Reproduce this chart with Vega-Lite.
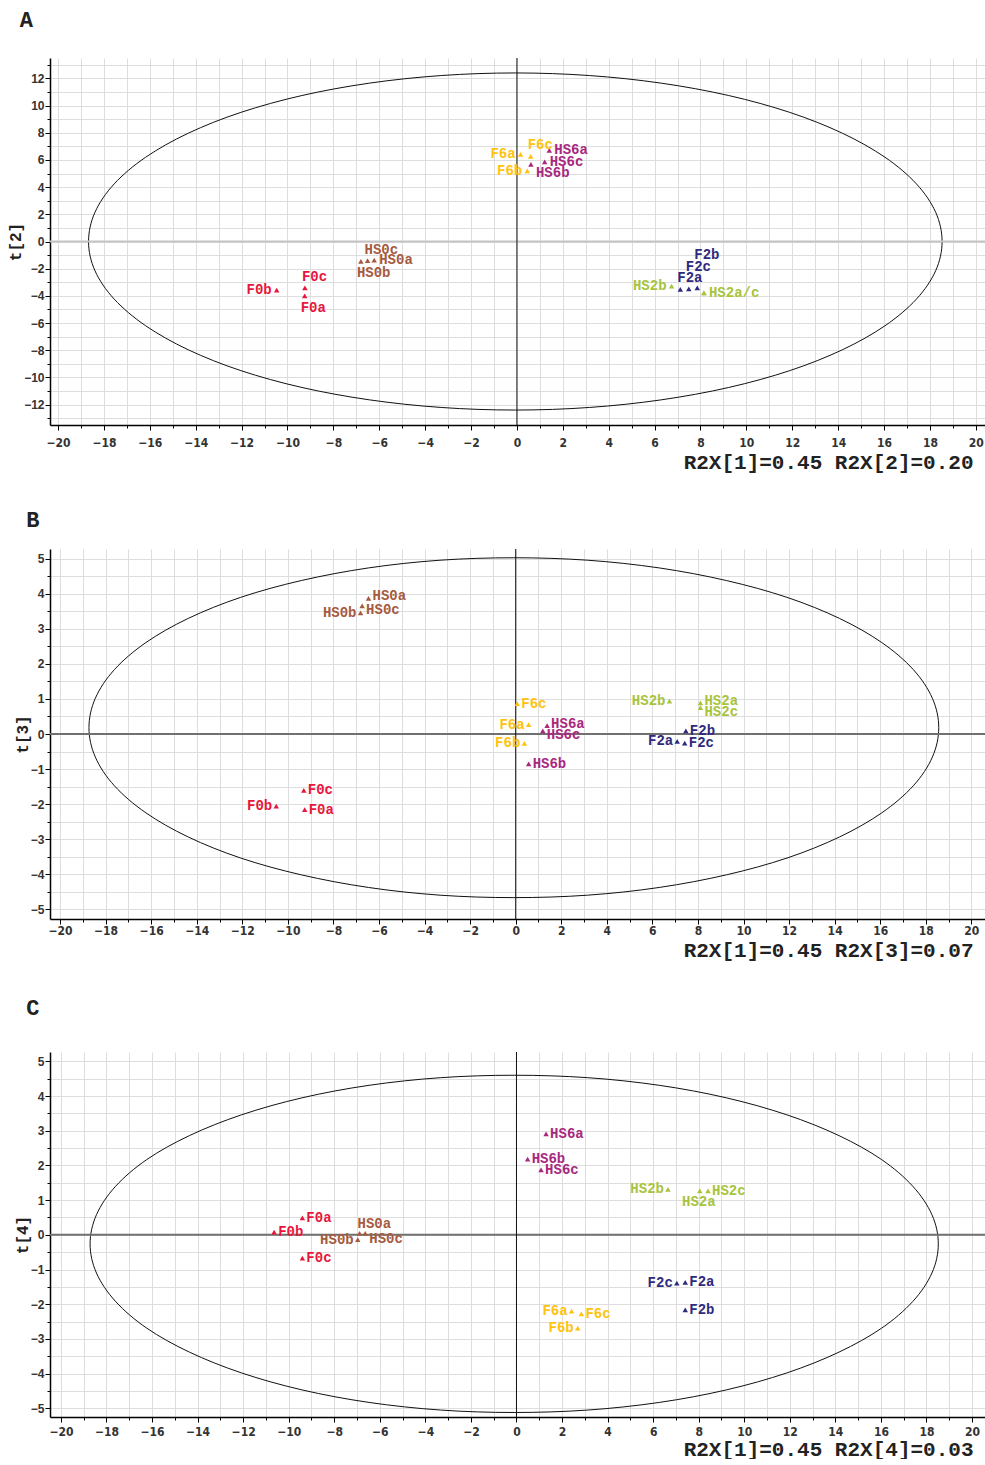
{
  "$schema": "https://vega.github.io/schema/vega-lite/v6.json",
  "padding": {"left": 7, "top": 8, "right": 0, "bottom": 0},
  "background": "white",
  "spacing": 36,
  "align": "none",
  "config": {
    "view": {"stroke": null},
    "title": {"font": "Liberation Mono", "fontSize": 22, "fontWeight": "bold", "anchor": "start", "frame": "bounds", "offset": 26, "color": "#222"},
    "axis": {
      "gridColor": "#dedede", "gridWidth": 1,
      "domainColor": "#000", "domainWidth": 1.5, "tickColor": "#000",
      "labelColor": "#333", "labelFontWeight": "bold", "labelFontSize": 12,
      "labelOverlap": false, "labelFlush": false,
      "titleFont": "Liberation Mono", "titleFontWeight": "bold", "titleColor": "#222"
    },
    "axisX": {"labelFont": "'DejaVu Sans Condensed', 'Liberation Sans Narrow', 'Liberation Sans'", "labelPadding": 4, "titleAlign": "right", "titleFontSize": 21, "titlePadding": 3},
    "axisY": {"labelFont": "Liberation Sans", "labelPadding": 1, "titleFontSize": 16, "titlePadding": 0}
  },
  "datasets": {
    "pts": [
      {"p": "A", "name": "F0a", "grp": "F0", "x": -9.25, "y": -4.0, "side": "bl"},
      {"p": "A", "name": "F0b", "grp": "F0", "x": -10.47, "y": -3.58, "side": "l"},
      {"p": "A", "name": "F0c", "grp": "F0", "x": -9.24, "y": -3.41, "side": "t"},
      {"p": "A", "name": "HS0a", "grp": "HS0", "x": -6.22, "y": -1.37, "side": "r"},
      {"p": "A", "name": "HS0b", "grp": "HS0", "x": -6.8, "y": -1.46, "side": "bl"},
      {"p": "A", "name": "HS0c", "grp": "HS0", "x": -6.51, "y": -1.41, "side": "t"},
      {"p": "A", "name": "F6a", "grp": "F6", "x": 0.16, "y": 6.41, "side": "l"},
      {"p": "A", "name": "F6b", "grp": "F6", "x": 0.45, "y": 5.19, "side": "l"},
      {"p": "A", "name": "F6c", "grp": "F6", "x": 0.6, "y": 6.27, "side": "t"},
      {"p": "A", "name": "HS6a", "grp": "HS6", "x": 1.41, "y": 6.71, "side": "r"},
      {"p": "A", "name": "HS6b", "grp": "HS6", "x": 0.61, "y": 5.68, "side": "rd"},
      {"p": "A", "name": "HS6c", "grp": "HS6", "x": 1.21, "y": 5.85, "side": "r"},
      {"p": "A", "name": "F2a", "grp": "F2", "x": 7.12, "y": -3.53, "side": "t"},
      {"p": "A", "name": "F2b", "grp": "F2", "x": 7.86, "y": -3.42, "side": "t3"},
      {"p": "A", "name": "F2c", "grp": "F2", "x": 7.49, "y": -3.49, "side": "t2"},
      {"p": "A", "name": "HS2a/c", "grp": "HS2", "x": 8.15, "y": -3.78, "side": "r"},
      {"p": "A", "name": "HS2c", "grp": "HS2", "x": 8.15, "y": -3.78, "side": "none"},
      {"p": "A", "name": "HS2b", "grp": "HS2", "x": 6.74, "y": -3.29, "side": "l"},

      {"p": "B", "name": "F0a", "grp": "F0", "x": -9.26, "y": -2.16, "side": "r"},
      {"p": "B", "name": "F0b", "grp": "F0", "x": -10.51, "y": -2.06, "side": "l"},
      {"p": "B", "name": "F0c", "grp": "F0", "x": -9.3, "y": -1.61, "side": "r"},
      {"p": "B", "name": "HS0a", "grp": "HS0", "x": -6.46, "y": 3.87, "side": "ru"},
      {"p": "B", "name": "HS0b", "grp": "HS0", "x": -6.81, "y": 3.46, "side": "l"},
      {"p": "B", "name": "HS0c", "grp": "HS0", "x": -6.74, "y": 3.66, "side": "rd"},
      {"p": "B", "name": "F6a", "grp": "F6", "x": 0.57, "y": 0.27, "side": "l"},
      {"p": "B", "name": "F6b", "grp": "F6", "x": 0.38, "y": -0.27, "side": "l"},
      {"p": "B", "name": "F6c", "grp": "F6", "x": 0.07, "y": 0.87, "side": "r"},
      {"p": "B", "name": "HS6a", "grp": "HS6", "x": 1.38, "y": 0.24, "side": "ru"},
      {"p": "B", "name": "HS6b", "grp": "HS6", "x": 0.57, "y": -0.85, "side": "r"},
      {"p": "B", "name": "HS6c", "grp": "HS6", "x": 1.19, "y": 0.09, "side": "rd"},
      {"p": "B", "name": "F2a", "grp": "F2", "x": 7.09, "y": -0.21, "side": "l"},
      {"p": "B", "name": "F2b", "grp": "F2", "x": 7.47, "y": 0.09, "side": "r"},
      {"p": "B", "name": "F2c", "grp": "F2", "x": 7.42, "y": -0.26, "side": "r"},
      {"p": "B", "name": "HS2a", "grp": "HS2", "x": 8.11, "y": 0.89, "side": "ru"},
      {"p": "B", "name": "HS2b", "grp": "HS2", "x": 6.75, "y": 0.94, "side": "l"},
      {"p": "B", "name": "HS2c", "grp": "HS2", "x": 8.11, "y": 0.75, "side": "rd"},

      {"p": "C", "name": "F0a", "grp": "F0", "x": -9.4, "y": 0.49, "side": "r"},
      {"p": "C", "name": "F0b", "grp": "F0", "x": -10.64, "y": 0.08, "side": "r"},
      {"p": "C", "name": "F0c", "grp": "F0", "x": -9.4, "y": -0.67, "side": "r"},
      {"p": "C", "name": "HS0a", "grp": "HS0", "x": -6.89, "y": 0.04, "side": "t"},
      {"p": "C", "name": "HS0b", "grp": "HS0", "x": -6.97, "y": -0.14, "side": "l"},
      {"p": "C", "name": "HS0c", "grp": "HS0", "x": -6.64, "y": 0.04, "side": "rd"},
      {"p": "C", "name": "F6a", "grp": "F6", "x": 2.42, "y": -2.2, "side": "l"},
      {"p": "C", "name": "F6b", "grp": "F6", "x": 2.69, "y": -2.69, "side": "l"},
      {"p": "C", "name": "F6c", "grp": "F6", "x": 2.85, "y": -2.28, "side": "r"},
      {"p": "C", "name": "HS6a", "grp": "HS6", "x": 1.3, "y": 2.91, "side": "r"},
      {"p": "C", "name": "HS6b", "grp": "HS6", "x": 0.49, "y": 2.18, "side": "r"},
      {"p": "C", "name": "HS6c", "grp": "HS6", "x": 1.08, "y": 1.87, "side": "r"},
      {"p": "C", "name": "F2a", "grp": "F2", "x": 7.41, "y": -1.37, "side": "r"},
      {"p": "C", "name": "F2b", "grp": "F2", "x": 7.41, "y": -2.16, "side": "r"},
      {"p": "C", "name": "F2c", "grp": "F2", "x": 7.04, "y": -1.39, "side": "l"},
      {"p": "C", "name": "HS2a", "grp": "HS2", "x": 8.05, "y": 1.27, "side": "b"},
      {"p": "C", "name": "HS2b", "grp": "HS2", "x": 6.65, "y": 1.31, "side": "l"},
      {"p": "C", "name": "HS2c", "grp": "HS2", "x": 8.41, "y": 1.27, "side": "r"}
    ],
    "ell": [
      {"p": "A", "i": 0, "x": 18.53, "y": 0}, {"p": "A", "i": 1, "x": 18.25, "y": 2.15}, {"p": "A", "i": 2, "x": 17.41, "y": 4.24}, {"p": "A", "i": 3, "x": 16.04, "y": 6.2}, {"p": "A", "i": 4, "x": 14.18, "y": 7.97}, {"p": "A", "i": 5, "x": 11.89, "y": 9.5}, {"p": "A", "i": 6, "x": 9.23, "y": 10.74}, {"p": "A", "i": 7, "x": 6.29, "y": 11.65}, {"p": "A", "i": 8, "x": 3.16, "y": 12.21}, {"p": "A", "i": 9, "x": -0.07, "y": 12.4},
      {"p": "A", "i": 10, "x": -3.3, "y": 12.21}, {"p": "A", "i": 11, "x": -6.43, "y": 11.65}, {"p": "A", "i": 12, "x": -9.37, "y": 10.74}, {"p": "A", "i": 13, "x": -12.03, "y": 9.5}, {"p": "A", "i": 14, "x": -14.32, "y": 7.97}, {"p": "A", "i": 15, "x": -16.18, "y": 6.2}, {"p": "A", "i": 16, "x": -17.55, "y": 4.24}, {"p": "A", "i": 17, "x": -18.39, "y": 2.15}, {"p": "A", "i": 18, "x": -18.67, "y": 0},
      {"p": "A", "i": 19, "x": -18.39, "y": -2.15}, {"p": "A", "i": 20, "x": -17.55, "y": -4.24}, {"p": "A", "i": 21, "x": -16.18, "y": -6.2}, {"p": "A", "i": 22, "x": -14.32, "y": -7.97}, {"p": "A", "i": 23, "x": -12.03, "y": -9.5}, {"p": "A", "i": 24, "x": -9.37, "y": -10.74}, {"p": "A", "i": 25, "x": -6.43, "y": -11.65}, {"p": "A", "i": 26, "x": -3.3, "y": -12.21}, {"p": "A", "i": 27, "x": -0.07, "y": -12.4},
      {"p": "A", "i": 28, "x": 3.16, "y": -12.21}, {"p": "A", "i": 29, "x": 6.29, "y": -11.65}, {"p": "A", "i": 30, "x": 9.23, "y": -10.74}, {"p": "A", "i": 31, "x": 11.89, "y": -9.5}, {"p": "A", "i": 32, "x": 14.18, "y": -7.97}, {"p": "A", "i": 33, "x": 16.04, "y": -6.2}, {"p": "A", "i": 34, "x": 17.41, "y": -4.24}, {"p": "A", "i": 35, "x": 18.25, "y": -2.15},

      {"p": "B", "i": 0, "x": 18.57, "y": 0.18}, {"p": "B", "i": 1, "x": 18.29, "y": 1.02}, {"p": "B", "i": 2, "x": 17.45, "y": 1.84}, {"p": "B", "i": 3, "x": 16.07, "y": 2.61}, {"p": "B", "i": 4, "x": 14.21, "y": 3.3}, {"p": "B", "i": 5, "x": 11.91, "y": 3.9}, {"p": "B", "i": 6, "x": 9.25, "y": 4.38}, {"p": "B", "i": 7, "x": 6.3, "y": 4.74}, {"p": "B", "i": 8, "x": 3.16, "y": 4.96}, {"p": "B", "i": 9, "x": -0.08, "y": 5.03},
      {"p": "B", "i": 10, "x": -3.32, "y": 4.96}, {"p": "B", "i": 11, "x": -6.46, "y": 4.74}, {"p": "B", "i": 12, "x": -9.41, "y": 4.38}, {"p": "B", "i": 13, "x": -12.07, "y": 3.9}, {"p": "B", "i": 14, "x": -14.37, "y": 3.3}, {"p": "B", "i": 15, "x": -16.23, "y": 2.61}, {"p": "B", "i": 16, "x": -17.61, "y": 1.84}, {"p": "B", "i": 17, "x": -18.45, "y": 1.02}, {"p": "B", "i": 18, "x": -18.73, "y": 0.18},
      {"p": "B", "i": 19, "x": -18.45, "y": -0.66}, {"p": "B", "i": 20, "x": -17.61, "y": -1.48}, {"p": "B", "i": 21, "x": -16.23, "y": -2.25}, {"p": "B", "i": 22, "x": -14.37, "y": -2.94}, {"p": "B", "i": 23, "x": -12.07, "y": -3.54}, {"p": "B", "i": 24, "x": -9.41, "y": -4.02}, {"p": "B", "i": 25, "x": -6.46, "y": -4.38}, {"p": "B", "i": 26, "x": -3.32, "y": -4.6}, {"p": "B", "i": 27, "x": -0.08, "y": -4.67},
      {"p": "B", "i": 28, "x": 3.16, "y": -4.6}, {"p": "B", "i": 29, "x": 6.3, "y": -4.38}, {"p": "B", "i": 30, "x": 9.25, "y": -4.02}, {"p": "B", "i": 31, "x": 11.91, "y": -3.54}, {"p": "B", "i": 32, "x": 14.21, "y": -2.94}, {"p": "B", "i": 33, "x": 16.07, "y": -2.25}, {"p": "B", "i": 34, "x": 17.45, "y": -1.48}, {"p": "B", "i": 35, "x": 18.29, "y": -0.66},

      {"p": "C", "i": 0, "x": 18.52, "y": -0.26}, {"p": "C", "i": 1, "x": 18.24, "y": 0.58}, {"p": "C", "i": 2, "x": 17.4, "y": 1.4}, {"p": "C", "i": 3, "x": 16.03, "y": 2.17}, {"p": "C", "i": 4, "x": 14.16, "y": 2.86}, {"p": "C", "i": 5, "x": 11.87, "y": 3.46}, {"p": "C", "i": 6, "x": 9.21, "y": 3.95}, {"p": "C", "i": 7, "x": 6.27, "y": 4.31}, {"p": "C", "i": 8, "x": 3.13, "y": 4.53}, {"p": "C", "i": 9, "x": -0.1, "y": 4.6},
      {"p": "C", "i": 10, "x": -3.33, "y": 4.53}, {"p": "C", "i": 11, "x": -6.47, "y": 4.31}, {"p": "C", "i": 12, "x": -9.41, "y": 3.95}, {"p": "C", "i": 13, "x": -12.07, "y": 3.46}, {"p": "C", "i": 14, "x": -14.36, "y": 2.86}, {"p": "C", "i": 15, "x": -16.23, "y": 2.17}, {"p": "C", "i": 16, "x": -17.6, "y": 1.4}, {"p": "C", "i": 17, "x": -18.44, "y": 0.58}, {"p": "C", "i": 18, "x": -18.72, "y": -0.26},
      {"p": "C", "i": 19, "x": -18.44, "y": -1.1}, {"p": "C", "i": 20, "x": -17.6, "y": -1.92}, {"p": "C", "i": 21, "x": -16.23, "y": -2.69}, {"p": "C", "i": 22, "x": -14.36, "y": -3.38}, {"p": "C", "i": 23, "x": -12.07, "y": -3.98}, {"p": "C", "i": 24, "x": -9.41, "y": -4.47}, {"p": "C", "i": 25, "x": -6.47, "y": -4.83}, {"p": "C", "i": 26, "x": -3.33, "y": -5.05}, {"p": "C", "i": 27, "x": -0.1, "y": -5.12},
      {"p": "C", "i": 28, "x": 3.13, "y": -5.05}, {"p": "C", "i": 29, "x": 6.27, "y": -4.83}, {"p": "C", "i": 30, "x": 9.21, "y": -4.47}, {"p": "C", "i": 31, "x": 11.87, "y": -3.98}, {"p": "C", "i": 32, "x": 14.16, "y": -3.38}, {"p": "C", "i": 33, "x": 16.03, "y": -2.69}, {"p": "C", "i": 34, "x": 17.4, "y": -1.92}, {"p": "C", "i": 35, "x": 18.24, "y": -1.1}
    ]
  },
  "vconcat": [
    {
      "title": {"text": "A", "dx": 12},
      "width": 935, "height": 367,
      "resolve": {"axis": {"x": "independent", "y": "independent"}},
      "layer": [
        {"data": {"name": "ell"}, "transform": [{"filter": "datum.p === 'A'"}],
         "mark": {"type": "line", "interpolate": "cardinal-closed", "color": "#111", "strokeWidth": 1},
         "encoding": {
           "x": {"field": "x", "type": "quantitative", "scale": {"domain": [-20.35, 20.4], "nice": false, "zero": false},
                 "axis": {"orient": "bottom", "title": null, "labels": false, "grid": true, "tickSize": 3, "values": [-20,-19,-18,-17,-16,-15,-14,-13,-12,-11,-10,-9,-8,-7,-6,-5,-4,-3,-2,-1,0,1,2,3,4,5,6,7,8,9,10,11,12,13,14,15,16,17,18,19,20]}},
           "y": {"field": "y", "type": "quantitative", "scale": {"domain": [-13.5, 13.5], "nice": false, "zero": false},
                 "axis": {"orient": "left", "title": null, "labels": false, "grid": true, "tickSize": 3, "values": [-13,-12,-11,-10,-9,-8,-7,-6,-5,-4,-3,-2,-1,0,1,2,3,4,5,6,7,8,9,10,11,12,13]}},
           "order": {"field": "i", "type": "quantitative"}
         }},
        {"data": {"values": [{"y": 0}]}, "mark": {"type": "rule", "color": "#c4c4c4", "strokeWidth": 2}, "encoding": {"y": {"field": "y", "type": "quantitative", "axis": null}}},
        {"data": {"values": [{"x": 0}]}, "mark": {"type": "rule", "color": "#111", "strokeWidth": 1}, "encoding": {"x": {"field": "x", "type": "quantitative", "axis": null}}},
        {"data": {"name": "pts"}, "transform": [{"filter": "datum.p === 'A'"}],
         "mark": {"type": "point", "shape": "triangle-up", "filled": true, "size": 30, "opacity": 1},
         "encoding": {
           "x": {"field": "x", "type": "quantitative", "axis": {"orient": "bottom", "title": "R2X[1]=0.45 R2X[2]=0.20", "titleX": 923, "labelPadding": 7, "grid": false, "domain": false, "tickSize": 5, "values": [-20,-18,-16,-14,-12,-10,-8,-6,-4,-2,0,2,4,6,8,10,12,14,16,18,20]}},
           "y": {"field": "y", "type": "quantitative", "axis": {"orient": "left", "title": "t[2]", "grid": false, "domain": false, "tickSize": 5, "values": [-12,-10,-8,-6,-4,-2,0,2,4,6,8,10,12]}},
           "color": {"field": "grp", "type": "nominal", "legend": null, "scale": {"domain": ["F0","HS0","F6","HS6","F2","HS2"], "range": ["#E8163C","#A65A3E","#FFC20E","#A8287E","#2E2A7E","#A8C43C"]}}}},
        {"data": {"name": "pts"}, "transform": [{"filter": "datum.p === 'A' && datum.side === 'r'"}], "mark": {"type": "text", "font": "Liberation Mono", "fontWeight": "bold", "fontSize": 14, "align": "left", "baseline": "middle", "dx": 5, "dy": 0},
         "encoding": {"x": {"field": "x", "type": "quantitative", "axis": null}, "y": {"field": "y", "type": "quantitative", "axis": null}, "text": {"field": "name"}, "color": {"field": "grp", "type": "nominal", "legend": null}}},
        {"data": {"name": "pts"}, "transform": [{"filter": "datum.p === 'A' && datum.side === 'rd'"}], "mark": {"type": "text", "font": "Liberation Mono", "fontWeight": "bold", "fontSize": 14, "align": "left", "baseline": "middle", "dx": 5, "dy": 9},
         "encoding": {"x": {"field": "x", "type": "quantitative", "axis": null}, "y": {"field": "y", "type": "quantitative", "axis": null}, "text": {"field": "name"}, "color": {"field": "grp", "type": "nominal", "legend": null}}},
        {"data": {"name": "pts"}, "transform": [{"filter": "datum.p === 'A' && datum.side === 'l'"}], "mark": {"type": "text", "font": "Liberation Mono", "fontWeight": "bold", "fontSize": 14, "align": "right", "baseline": "middle", "dx": -5, "dy": 0},
         "encoding": {"x": {"field": "x", "type": "quantitative", "axis": null}, "y": {"field": "y", "type": "quantitative", "axis": null}, "text": {"field": "name"}, "color": {"field": "grp", "type": "nominal", "legend": null}}},
        {"data": {"name": "pts"}, "transform": [{"filter": "datum.p === 'A' && datum.side === 't'"}], "mark": {"type": "text", "font": "Liberation Mono", "fontWeight": "bold", "fontSize": 14, "align": "left", "baseline": "middle", "dx": -3, "dy": -11},
         "encoding": {"x": {"field": "x", "type": "quantitative", "axis": null}, "y": {"field": "y", "type": "quantitative", "axis": null}, "text": {"field": "name"}, "color": {"field": "grp", "type": "nominal", "legend": null}}},
        {"data": {"name": "pts"}, "transform": [{"filter": "datum.p === 'A' && datum.side === 't2'"}], "mark": {"type": "text", "font": "Liberation Mono", "fontWeight": "bold", "fontSize": 14, "align": "left", "baseline": "middle", "dx": -3, "dy": -22},
         "encoding": {"x": {"field": "x", "type": "quantitative", "axis": null}, "y": {"field": "y", "type": "quantitative", "axis": null}, "text": {"field": "name"}, "color": {"field": "grp", "type": "nominal", "legend": null}}},
        {"data": {"name": "pts"}, "transform": [{"filter": "datum.p === 'A' && datum.side === 't3'"}], "mark": {"type": "text", "font": "Liberation Mono", "fontWeight": "bold", "fontSize": 14, "align": "left", "baseline": "middle", "dx": -3, "dy": -33},
         "encoding": {"x": {"field": "x", "type": "quantitative", "axis": null}, "y": {"field": "y", "type": "quantitative", "axis": null}, "text": {"field": "name"}, "color": {"field": "grp", "type": "nominal", "legend": null}}},
        {"data": {"name": "pts"}, "transform": [{"filter": "datum.p === 'A' && datum.side === 'bl'"}], "mark": {"type": "text", "font": "Liberation Mono", "fontWeight": "bold", "fontSize": 14, "align": "left", "baseline": "middle", "dx": -4, "dy": 12},
         "encoding": {"x": {"field": "x", "type": "quantitative", "axis": null}, "y": {"field": "y", "type": "quantitative", "axis": null}, "text": {"field": "name"}, "color": {"field": "grp", "type": "nominal", "legend": null}}}
      ]
    },
    {
      "title": {"text": "B", "dx": 12, "offset": 17},
      "width": 935, "height": 370,
      "resolve": {"axis": {"x": "independent", "y": "independent"}},
      "layer": [
        {"data": {"name": "ell"}, "transform": [{"filter": "datum.p === 'B'"}],
         "mark": {"type": "line", "interpolate": "cardinal-closed", "color": "#111", "strokeWidth": 1},
         "encoding": {
           "x": {"field": "x", "type": "quantitative", "scale": {"domain": [-20.44, 20.6], "nice": false, "zero": false},
                 "axis": {"orient": "bottom", "title": null, "labels": false, "grid": true, "tickSize": 3, "values": [-20,-19,-18,-17,-16,-15,-14,-13,-12,-11,-10,-9,-8,-7,-6,-5,-4,-3,-2,-1,0,1,2,3,4,5,6,7,8,9,10,11,12,13,14,15,16,17,18,19,20]}},
           "y": {"field": "y", "type": "quantitative", "scale": {"domain": [-5.28, 5.28], "nice": false, "zero": false},
                 "axis": {"orient": "left", "title": null, "labels": false, "grid": true, "tickSize": 3, "values": [-5,-4.5,-4,-3.5,-3,-2.5,-2,-1.5,-1,-0.5,0,0.5,1,1.5,2,2.5,3,3.5,4,4.5,5]}},
           "order": {"field": "i", "type": "quantitative"}
         }},
        {"data": {"values": [{"y": 0}]}, "mark": {"type": "rule", "color": "#707070", "strokeWidth": 2}, "encoding": {"y": {"field": "y", "type": "quantitative", "axis": null}}},
        {"data": {"values": [{"x": 0}]}, "mark": {"type": "rule", "color": "#111", "strokeWidth": 1}, "encoding": {"x": {"field": "x", "type": "quantitative", "axis": null}}},
        {"data": {"name": "pts"}, "transform": [{"filter": "datum.p === 'B'"}],
         "mark": {"type": "point", "shape": "triangle-up", "filled": true, "size": 30, "opacity": 1},
         "encoding": {
           "x": {"field": "x", "type": "quantitative", "axis": {"orient": "bottom", "title": "R2X[1]=0.45 R2X[3]=0.07", "titleX": 923, "labelPadding": 1, "grid": false, "domain": false, "tickSize": 5, "values": [-20,-18,-16,-14,-12,-10,-8,-6,-4,-2,0,2,4,6,8,10,12,14,16,18,20]}},
           "y": {"field": "y", "type": "quantitative", "axis": {"orient": "left", "title": "t[3]", "grid": false, "domain": false, "tickSize": 5, "values": [-5,-4,-3,-2,-1,0,1,2,3,4,5]}},
           "color": {"field": "grp", "type": "nominal", "legend": null, "scale": {"domain": ["F0","HS0","F6","HS6","F2","HS2"], "range": ["#E8163C","#A65A3E","#FFC20E","#A8287E","#2E2A7E","#A8C43C"]}}}},
        {"data": {"name": "pts"}, "transform": [{"filter": "datum.p === 'B' && datum.side === 'r'"}], "mark": {"type": "text", "font": "Liberation Mono", "fontWeight": "bold", "fontSize": 14, "align": "left", "baseline": "middle", "dx": 4, "dy": 0},
         "encoding": {"x": {"field": "x", "type": "quantitative", "axis": null}, "y": {"field": "y", "type": "quantitative", "axis": null}, "text": {"field": "name"}, "color": {"field": "grp", "type": "nominal", "legend": null}}},
        {"data": {"name": "pts"}, "transform": [{"filter": "datum.p === 'B' && datum.side === 'ru'"}], "mark": {"type": "text", "font": "Liberation Mono", "fontWeight": "bold", "fontSize": 14, "align": "left", "baseline": "middle", "dx": 4, "dy": -2},
         "encoding": {"x": {"field": "x", "type": "quantitative", "axis": null}, "y": {"field": "y", "type": "quantitative", "axis": null}, "text": {"field": "name"}, "color": {"field": "grp", "type": "nominal", "legend": null}}},
        {"data": {"name": "pts"}, "transform": [{"filter": "datum.p === 'B' && datum.side === 'rd'"}], "mark": {"type": "text", "font": "Liberation Mono", "fontWeight": "bold", "fontSize": 14, "align": "left", "baseline": "middle", "dx": 4, "dy": 4},
         "encoding": {"x": {"field": "x", "type": "quantitative", "axis": null}, "y": {"field": "y", "type": "quantitative", "axis": null}, "text": {"field": "name"}, "color": {"field": "grp", "type": "nominal", "legend": null}}},
        {"data": {"name": "pts"}, "transform": [{"filter": "datum.p === 'B' && datum.side === 'l'"}], "mark": {"type": "text", "font": "Liberation Mono", "fontWeight": "bold", "fontSize": 14, "align": "right", "baseline": "middle", "dx": -4, "dy": 0},
         "encoding": {"x": {"field": "x", "type": "quantitative", "axis": null}, "y": {"field": "y", "type": "quantitative", "axis": null}, "text": {"field": "name"}, "color": {"field": "grp", "type": "nominal", "legend": null}}}
      ]
    },
    {
      "title": {"text": "C", "dx": 12, "offset": 32},
      "width": 935, "height": 365,
      "resolve": {"axis": {"x": "independent", "y": "independent"}},
      "layer": [
        {"data": {"name": "ell"}, "transform": [{"filter": "datum.p === 'C'"}],
         "mark": {"type": "line", "interpolate": "cardinal-closed", "color": "#111", "strokeWidth": 1},
         "encoding": {
           "x": {"field": "x", "type": "quantitative", "scale": {"domain": [-20.48, 20.57], "nice": false, "zero": false},
                 "axis": {"orient": "bottom", "title": null, "labels": false, "grid": true, "tickSize": 3, "values": [-20,-19,-18,-17,-16,-15,-14,-13,-12,-11,-10,-9,-8,-7,-6,-5,-4,-3,-2,-1,0,1,2,3,4,5,6,7,8,9,10,11,12,13,14,15,16,17,18,19,20]}},
           "y": {"field": "y", "type": "quantitative", "scale": {"domain": [-5.25, 5.27], "nice": false, "zero": false},
                 "axis": {"orient": "left", "title": null, "labels": false, "grid": true, "tickSize": 3, "values": [-5,-4.5,-4,-3.5,-3,-2.5,-2,-1.5,-1,-0.5,0,0.5,1,1.5,2,2.5,3,3.5,4,4.5,5]}},
           "order": {"field": "i", "type": "quantitative"}
         }},
        {"data": {"values": [{"y": 0}]}, "mark": {"type": "rule", "color": "#707070", "strokeWidth": 2}, "encoding": {"y": {"field": "y", "type": "quantitative", "axis": null}}},
        {"data": {"values": [{"x": 0}]}, "mark": {"type": "rule", "color": "#111", "strokeWidth": 1}, "encoding": {"x": {"field": "x", "type": "quantitative", "axis": null}}},
        {"data": {"name": "pts"}, "transform": [{"filter": "datum.p === 'C'"}],
         "mark": {"type": "point", "shape": "triangle-up", "filled": true, "size": 30, "opacity": 1},
         "encoding": {
           "x": {"field": "x", "type": "quantitative", "axis": {"orient": "bottom", "title": "R2X[1]=0.45 R2X[4]=0.03", "titleX": 923, "titlePadding": 1, "grid": false, "domain": false, "tickSize": 5, "values": [-20,-18,-16,-14,-12,-10,-8,-6,-4,-2,0,2,4,6,8,10,12,14,16,18,20]}},
           "y": {"field": "y", "type": "quantitative", "axis": {"orient": "left", "title": "t[4]", "grid": false, "domain": false, "tickSize": 5, "values": [-5,-4,-3,-2,-1,0,1,2,3,4,5]}},
           "color": {"field": "grp", "type": "nominal", "legend": null, "scale": {"domain": ["F0","HS0","F6","HS6","F2","HS2"], "range": ["#E8163C","#A65A3E","#FFC20E","#A8287E","#2E2A7E","#A8C43C"]}}}},
        {"data": {"name": "pts"}, "transform": [{"filter": "datum.p === 'C' && datum.side === 'r'"}], "mark": {"type": "text", "font": "Liberation Mono", "fontWeight": "bold", "fontSize": 14, "align": "left", "baseline": "middle", "dx": 4, "dy": 0},
         "encoding": {"x": {"field": "x", "type": "quantitative", "axis": null}, "y": {"field": "y", "type": "quantitative", "axis": null}, "text": {"field": "name"}, "color": {"field": "grp", "type": "nominal", "legend": null}}},
        {"data": {"name": "pts"}, "transform": [{"filter": "datum.p === 'C' && datum.side === 'rd'"}], "mark": {"type": "text", "font": "Liberation Mono", "fontWeight": "bold", "fontSize": 14, "align": "left", "baseline": "middle", "dx": 4, "dy": 6},
         "encoding": {"x": {"field": "x", "type": "quantitative", "axis": null}, "y": {"field": "y", "type": "quantitative", "axis": null}, "text": {"field": "name"}, "color": {"field": "grp", "type": "nominal", "legend": null}}},
        {"data": {"name": "pts"}, "transform": [{"filter": "datum.p === 'C' && datum.side === 'l'"}], "mark": {"type": "text", "font": "Liberation Mono", "fontWeight": "bold", "fontSize": 14, "align": "right", "baseline": "middle", "dx": -4, "dy": 0},
         "encoding": {"x": {"field": "x", "type": "quantitative", "axis": null}, "y": {"field": "y", "type": "quantitative", "axis": null}, "text": {"field": "name"}, "color": {"field": "grp", "type": "nominal", "legend": null}}},
        {"data": {"name": "pts"}, "transform": [{"filter": "datum.p === 'C' && datum.side === 't'"}], "mark": {"type": "text", "font": "Liberation Mono", "fontWeight": "bold", "fontSize": 14, "align": "left", "baseline": "middle", "dx": -2, "dy": -9},
         "encoding": {"x": {"field": "x", "type": "quantitative", "axis": null}, "y": {"field": "y", "type": "quantitative", "axis": null}, "text": {"field": "name"}, "color": {"field": "grp", "type": "nominal", "legend": null}}},
        {"data": {"name": "pts"}, "transform": [{"filter": "datum.p === 'C' && datum.side === 'b'"}], "mark": {"type": "text", "font": "Liberation Mono", "fontWeight": "bold", "fontSize": 14, "align": "center", "baseline": "middle", "dx": -1, "dy": 11},
         "encoding": {"x": {"field": "x", "type": "quantitative", "axis": null}, "y": {"field": "y", "type": "quantitative", "axis": null}, "text": {"field": "name"}, "color": {"field": "grp", "type": "nominal", "legend": null}}}
      ]
    }
  ]
}
